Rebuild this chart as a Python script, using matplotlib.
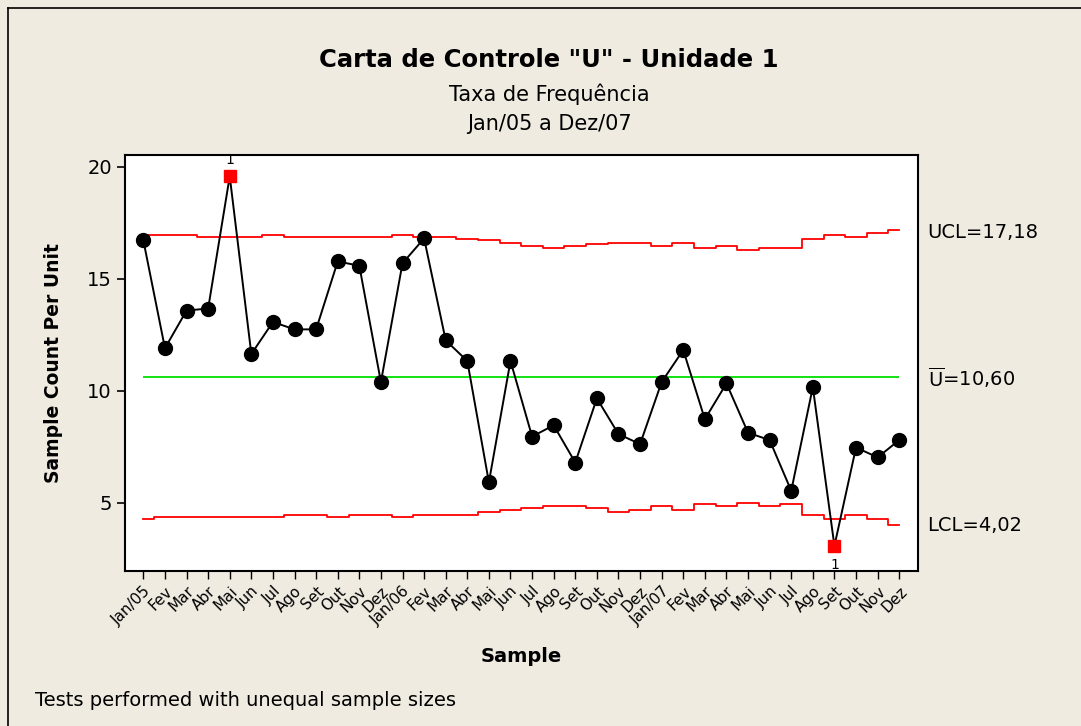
import matplotlib
matplotlib.use("Agg")
import matplotlib.pyplot as plt
import numpy as np

plt.rcParams['font.family'] = ['DejaVu Sans']
plt.rcParams['mathtext.fontset'] = 'dejavusans'

# meses Jan/05 .. Dez/07
meses = ['Jan/05', 'Fev', 'Mar', 'Abr', 'Mai', 'Jun', 'Jul', 'Ago', 'Set', 'Out', 'Nov', 'Dez',
         'Jan/06', 'Fev', 'Mar', 'Abr', 'Mai', 'Jun', 'Jul', 'Ago', 'Set', 'Out', 'Nov', 'Dez',
         'Jan/07', 'Fev', 'Mar', 'Abr', 'Mai', 'Jun', 'Jul', 'Ago', 'Set', 'Out', 'Nov', 'Dez']

# taxa por unidade
u = [16.71, 11.90, 13.58, 13.67, 19.57, 11.64, 13.07, 12.74, 12.74, 15.77, 15.58, 10.39,
     15.69, 16.80, 12.25, 11.33, 5.92, 11.33, 7.96, 8.46, 6.80, 9.66, 8.07, 7.62,
     10.39, 11.82, 8.73, 10.33, 8.13, 7.80, 5.54, 10.16, 3.08, 7.47, 7.03, 7.80]

ucl = [16.95, 16.95, 16.95, 16.86, 16.86, 16.86, 16.95, 16.86, 16.86, 16.86, 16.86, 16.86,
       16.95, 16.86, 16.86, 16.79, 16.71, 16.61, 16.46, 16.37, 16.46, 16.55, 16.61, 16.61,
       16.46, 16.61, 16.39, 16.46, 16.28, 16.37, 16.37, 16.79, 16.95, 16.86, 17.04, 17.18]

lcl = [4.26, 4.35, 4.35, 4.35, 4.35, 4.35, 4.35, 4.44, 4.44, 4.35, 4.44, 4.44,
       4.35, 4.44, 4.44, 4.44, 4.60, 4.69, 4.75, 4.85, 4.85, 4.75, 4.60, 4.67,
       4.85, 4.67, 4.93, 4.85, 5.00, 4.85, 4.94, 4.45, 4.26, 4.44, 4.26, 4.02]

ubar = 10.60
fora = [5, 33]  # amostras fora de controle (teste 1)

x = np.arange(1, len(u) + 1)
fundo = '#EFEBE1'

fig = plt.figure(figsize=(10.81, 7.26), dpi=100, facecolor=fundo)
ax = fig.add_axes([125/1081, 1 - 571/726, (918 - 125)/1081, (571 - 155)/726])
ax.set_facecolor('white')

ax.step(x, ucl, where='mid', color='red', lw=1.3)
ax.step(x, lcl, where='mid', color='red', lw=1.3)
ax.hlines(ubar, x[0], x[-1], color='#00E000', lw=1.3)

ax.plot(x, u, color='black', lw=1.4, zorder=3)
ok = [i for i in range(len(u)) if (i + 1) not in fora]
ax.plot(x[ok], np.array(u)[ok], 'o', color='black', ms=10, zorder=4)
idx = [i - 1 for i in fora]
ax.plot(x[idx], np.array(u)[idx], 's', color='red', ms=9, zorder=5)

for i in idx:
    if u[i] > ucl[i]:
        ax.annotate('1', (x[i], u[i]), xytext=(0, 7), textcoords='offset points',
                    ha='center', va='bottom', fontsize=10)
    else:
        ax.annotate('1', (x[i], u[i]), xytext=(0, -9), textcoords='offset points',
                    ha='center', va='top', fontsize=10)

ax.set_xlim(0.15, 36.87)
ax.set_ylim(1.96, 20.52)
ax.set_yticks([5, 10, 15, 20])
ax.set_xticks(x)
ax.set_xticklabels(meses, rotation=45, ha='right', va='top', rotation_mode='anchor', fontsize=11)
ax.tick_params(axis='y', labelsize=14, length=6, width=1.2, direction='out')
ax.tick_params(axis='x', length=6, width=1.0, direction='out', pad=3)
for s in ax.spines.values():
    s.set_linewidth(1.5)

ax.set_xlabel('Sample', fontsize=14, fontweight='bold', labelpad=14)
ax.set_ylabel('Sample Count Per Unit', fontsize=13.5, fontweight='bold', labelpad=17)

# rótulos dos limites
tr = ax.get_yaxis_transform()
ax.text(1.012, ucl[-1] - 0.13, ('UCL=%.2f' % ucl[-1]).replace('.', ','), transform=tr,
        fontsize=14, va='center', ha='left')
ax.text(1.012, ubar, r'$\overline{\mathrm{U}}$' + ('=%.2f' % ubar).replace('.', ','),
        transform=tr, fontsize=14, va='center', ha='left')
ax.text(1.012, lcl[-1] - 0.05, ('LCL=%.2f' % lcl[-1]).replace('.', ','),
        transform=tr, fontsize=14, va='center', ha='left')

fig.text(549/1081, 1 - 60/726, 'Carta de Controle "U" - Unidade 1', fontsize=17.5,
         fontweight='bold', ha='center', va='center')
fig.text(549/1081, 1 - 94/726, 'Taxa de Frequência', fontsize=15, ha='center', va='center')
fig.text(549/1081, 1 - 124/726, 'Jan/05 a Dez/07', fontsize=15, ha='center', va='center')
fig.text(35/1081, 1 - 700/726, 'Tests performed with unequal sample sizes', fontsize=14,
         ha='left', va='center')

# moldura
fig.add_artist(plt.Line2D([8/1081, 8/1081], [0, 1 - 8/726], color='black', lw=1.2))
fig.add_artist(plt.Line2D([8/1081, 1], [1 - 8/726, 1 - 8/726], color='black', lw=1.2))

fig.savefig('out.png', dpi=100, facecolor=fundo)
